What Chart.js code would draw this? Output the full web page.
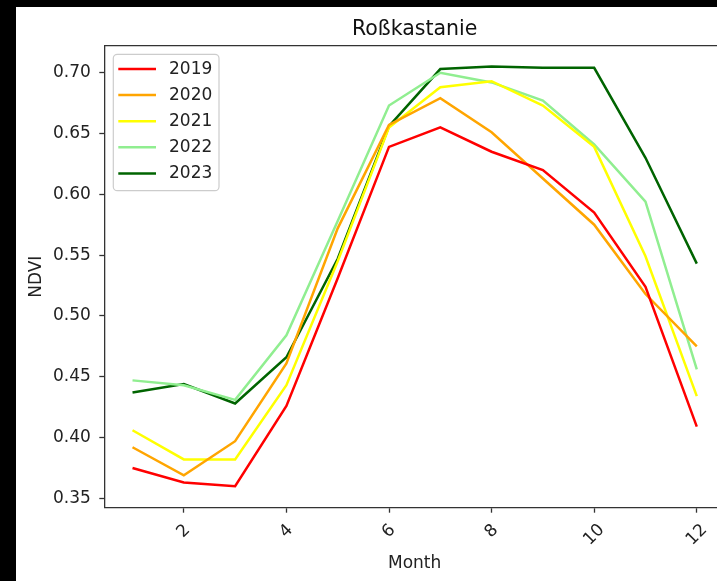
<!DOCTYPE html>
<html>
<head>
<meta charset="utf-8">
<script src="https://cdn.jsdelivr.net/npm/chart.js@4"></script>
<style>
    html, body { margin: 0; padding: 0; background: #000; overflow: hidden; width: 717px; height: 581px; }
    #wrap { position: absolute; left: 16px; top: 7px; width: 701px; height: 574px; background: #fff; overflow: hidden; }
    #ndviChart { display: block; }
</style>
</head>
<body>
<div id="wrap"><canvas id="ndviChart" width="724" height="574"></canvas></div>
<script>
// Daten: NDVI-Monatsmittel Roßkastanie
const months = [1, 2, 3, 4, 5, 6, 7, 8, 9, 10, 11, 12];
const ndvi2019 = [0.375, 0.363, 0.360, 0.426, 0.531, 0.639, 0.655, 0.635, 0.620, 0.585, 0.524, 0.409];
const ndvi2020 = [0.392, 0.369, 0.397, 0.461, 0.572, 0.657, 0.679, 0.651, 0.613, 0.575, 0.518, 0.475];
const ndvi2021 = [0.406, 0.382, 0.382, 0.443, 0.545, 0.655, 0.688, 0.693, 0.673, 0.639, 0.549, 0.434];
const ndvi2022 = [0.447, 0.443, 0.431, 0.484, 0.578, 0.673, 0.700, 0.692, 0.677, 0.641, 0.594, 0.456];
const ndvi2023 = [0.437, 0.444, 0.428, 0.466, 0.547, 0.656, 0.703, 0.705, 0.704, 0.704, 0.630, 0.543];
const years = ['2019', '2020', '2021', '2022', '2023'];
const xTicks = [2, 4, 6, 8, 10, 12];
const yTicks = [0.35, 0.40, 0.45, 0.50, 0.55, 0.60, 0.65, 0.70];

const colors = ['#ff0000', '#ffa500', '#ffff00', '#90ee90', '#006400'];
const textColor = '#222';
const axisColor = '#333';
const font = '"DejaVu Sans", sans-serif';

const series = [ndvi2019, ndvi2020, ndvi2021, ndvi2022, ndvi2023];

// obere Achsenlinie, gedrehte x-Beschriftung und Legende im Plot
const extras = {
    id: 'extras',
    afterDatasetsDraw(chart) {
        const { ctx, chartArea: a, scales: { x } } = chart;
        ctx.save();
        ctx.strokeStyle = axisColor;
        ctx.lineWidth = 1.3;
        ctx.beginPath();
        ctx.moveTo(a.left, a.top);
        ctx.lineTo(a.right, a.top);
        ctx.stroke();

        ctx.font = '17px ' + font;
        ctx.fillStyle = textColor;
        ctx.textAlign = 'center';
        ctx.textBaseline = 'middle';
        xTicks.forEach(v => {
            const label = String(v);
            const w = ctx.measureText(label).width;
            const px = x.getPixelForValue(v);
            const cy = a.bottom + 14 + (w + 16) / 2.83;
            ctx.save();
            ctx.translate(px, cy);
            ctx.rotate(-Math.PI / 4);
            ctx.fillText(label, 0, 0);
            ctx.restore();
        });

        // Legende
        const lx = a.left + 9, ly = a.top + 8.6, lw = 105.7, lh = 136.4;
        ctx.beginPath();
        ctx.roundRect(lx, ly, lw, lh, 4);
        ctx.fillStyle = 'rgba(255,255,255,0.8)';
        ctx.fill();
        ctx.strokeStyle = '#cccccc';
        ctx.lineWidth = 1.2;
        ctx.stroke();
        chart.data.datasets.forEach((ds, i) => {
            const ry = a.top + 23.3 + i * 26.1;
            ctx.strokeStyle = ds.borderColor;
            ctx.lineWidth = 2.5;
            ctx.beginPath();
            ctx.moveTo(a.left + 14, ry);
            ctx.lineTo(a.left + 51.7, ry);
            ctx.stroke();
            ctx.fillStyle = textColor;
            ctx.textAlign = 'left';
            ctx.fillText(ds.label, a.left + 64.7, ry + 0.5);
        });
        ctx.restore();
    }
};

const ctx = document.getElementById('ndviChart').getContext('2d');

const data = {
    datasets: years.map((year, i) => ({
        label: year,
        data: months.map((m, j) => ({ x: m, y: series[i][j] })),
        borderColor: colors[i],
        backgroundColor: colors[i],
        borderWidth: 2.5,
        pointRadius: 0,
        tension: 0,
        fill: false
    }))
};

const config = {
    type: 'line',
    data: data,
    options: {
        responsive: false,
        devicePixelRatio: 1,
        animation: false,
        layout: { padding: { left: 0, right: 15, top: 0, bottom: 0 } },
        plugins: {
            legend: { display: false },
            tooltip: { enabled: false },
            title: {
                display: true,
                text: 'Roßkastanie',
                fullSize: false,
                color: '#111',
                font: { family: font, size: 20.5, weight: 'normal', lineHeight: 1.2 },
                padding: { top: 10.2, bottom: 3.9 }
            }
        },
        scales: {
            x: {
                type: 'linear',
                min: 0.45,
                max: 12.55,
                afterBuildTicks: scale => { scale.ticks = xTicks.map(v => ({ value: v })); },
                afterFit: scale => { scale.height = 73.3; },
                grid: { display: true, drawOnChartArea: false, drawTicks: true, tickLength: 5, tickWidth: 1.3, tickColor: axisColor },
                border: { display: true, color: axisColor, width: 1.3 },
                ticks: { display: false },
                title: {
                    display: true,
                    text: 'Month',
                    color: textColor,
                    font: { family: font, size: 17, lineHeight: 1.2 },
                    padding: { top: 0, bottom: 7.5 }
                }
            },
            y: {
                min: 0.3423,
                max: 0.7222,
                afterBuildTicks: scale => { scale.ticks = yTicks.map(v => ({ value: v })); },
                afterFit: scale => { scale.width = 88.3; },
                grid: { display: true, drawOnChartArea: false, drawTicks: true, tickLength: 5, tickWidth: 1.3, tickColor: axisColor },
                border: { display: true, color: axisColor, width: 1.3 },
                ticks: {
                    color: textColor,
                    padding: 8.5,
                    font: { family: font, size: 17 },
                    callback: v => v.toFixed(2)
                },
                title: {
                    display: true,
                    text: 'NDVI',
                    color: textColor,
                    font: { family: font, size: 17, lineHeight: 1.2 },
                    padding: { top: 10, bottom: 0 }
                }
            }
        }
    },
    plugins: [extras]
};

new Chart(ctx, config);
</script>
</body>
</html>
